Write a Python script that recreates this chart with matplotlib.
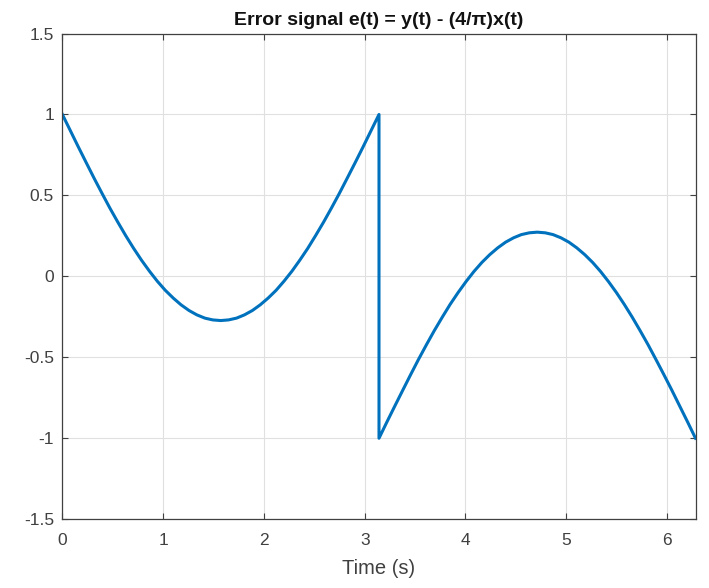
import numpy as np
import matplotlib
matplotlib.use('Agg')
import matplotlib.pyplot as plt

# Values (first half: y=1, second half: y=-1)
t_first = [0.000, 0.079, 0.157, 0.236, 0.314, 0.393, 0.471, 0.550, 0.628, 0.707, 0.785,
           0.864, 0.942, 1.021, 1.100, 1.178, 1.257, 1.335, 1.414, 1.492, 1.571,
           1.649, 1.728, 1.806, 1.885, 1.963, 2.042, 2.121, 2.199, 2.278, 2.356,
           2.435, 2.513, 2.592, 2.670, 2.749, 2.827, 2.906, 2.985, 3.063, 3.142]
e_first = [1.000, 0.900, 0.801, 0.703, 0.607, 0.513, 0.422, 0.335, 0.252, 0.173, 0.100,
           0.032, -0.030, -0.086, -0.134, -0.176, -0.211, -0.238, -0.258, -0.269, -0.273,
           -0.269, -0.258, -0.238, -0.211, -0.176, -0.134, -0.086, -0.030, 0.032, 0.100,
           0.173, 0.252, 0.335, 0.422, 0.513, 0.607, 0.703, 0.801, 0.900, 1.000]
t_second = [3.142, 3.220, 3.299, 3.378, 3.456, 3.534, 3.613, 3.691, 3.770, 3.848, 3.927,
            4.006, 4.084, 4.163, 4.241, 4.320, 4.398, 4.477, 4.555, 4.634, 4.712,
            4.791, 4.869, 4.948, 5.027, 5.105, 5.184, 5.262, 5.341, 5.419, 5.498,
            5.576, 5.655, 5.733, 5.812, 5.890, 5.969, 6.048, 6.126, 6.205, 6.283]
e_second = [-1.000, -0.900, -0.801, -0.703, -0.607, -0.513, -0.422, -0.335, -0.252, -0.173, -0.100,
            -0.032, 0.030, 0.086, 0.134, 0.176, 0.211, 0.238, 0.258, 0.269, 0.273,
            0.269, 0.258, 0.238, 0.211, 0.176, 0.134, 0.086, 0.030, -0.032, -0.100,
            -0.173, -0.252, -0.335, -0.422, -0.513, -0.607, -0.703, -0.801, -0.900, -1.000]

x_ticks = [0, 1, 2, 3, 4, 5, 6]
y_ticks = [-1.5, -1, -0.5, 0, 0.5, 1, 1.5]
y_labels = ['-1.5', '-1', '-0.5', '0', '0.5', '1', '1.5']

plt.rcParams['font.family'] = ['Liberation Sans', 'DejaVu Sans']

fig = plt.figure(figsize=(7.09, 5.88), dpi=100)
ax = fig.add_axes([0.088, 0.117, 0.893, 0.826])

t = t_first + t_second
e = e_first + e_second
ax.plot(t, e, color='#0072BD', linewidth=2.2)

ax.set_xlim(0, 6.2832)
ax.set_ylim(-1.5, 1.5)
ax.set_xticks(x_ticks)
ax.set_yticks(y_ticks)
ax.set_yticklabels(y_labels)
ax.grid(True, color='#e0e0e0', linewidth=0.8)
ax.set_axisbelow(True)
ax.tick_params(direction='in', length=4, width=0.8, colors='#404040',
               labelsize=12.5, top=True, right=True)
ax.tick_params(axis='x', pad=10)
ax.tick_params(axis='y', pad=6)
for sp in ax.spines.values():
    sp.set_color('#404040')
    sp.set_linewidth(0.9)

ax.set_xlabel('Time (s)', fontsize=14.5, color='#404040', labelpad=8)
ax.set_title('Error signal e(t) = y(t) - (4/\u03c0)x(t)', fontsize=14,
             fontweight='bold', color='#111111', pad=6)

plt.savefig('out.png', dpi=100)
